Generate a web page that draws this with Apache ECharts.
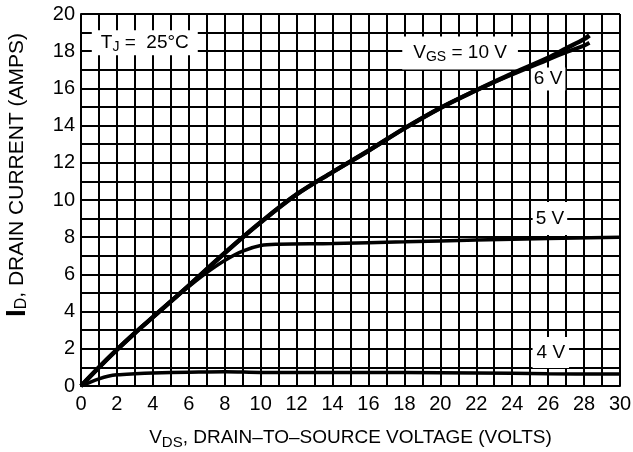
<!DOCTYPE html>
<html>
<head>
<meta charset="utf-8">
<script src="https://cdn.jsdelivr.net/npm/echarts@6/dist/echarts.min.js"></script>
<style>
  html, body { margin: 0; padding: 0; background: #fff; }
  #chart { width: 633px; height: 452px; }
</style>
</head>
<body>
<div id="chart"></div>
<script>
const FONT = "'Liberation Sans Narrow', 'Liberation Sans', Arial, sans-serif";

// curves, [VDS, ID]
const vgs10 = [[0,0],[1,1.0],[2,1.95],[3,2.85],[4,3.7],[6,5.4],[8,7.15],[10,8.8],[12,10.3],[14,11.5],[16,12.65],[18,13.85],[20,14.95],[22,15.9],[24,16.8],[26,17.65],[27,18.15],[28,18.65],[28.3,18.85]]
const vgs6 = [[0,0],[1,1.0],[2,1.95],[3,2.85],[4,3.7],[6,5.4],[8,7.15],[10,8.8],[12,10.3],[14,11.5],[16,12.65],[18,13.85],[20,14.95],[22,15.9],[24,16.75],[26,17.55],[27,17.95],[28,18.3],[28.3,18.45]]
const vgs5 = [[0,0],[1,1.0],[2,1.95],[3,2.85],[4,3.7],[5,4.55],[6,5.35],[7,6.1],[8,6.75],[9,7.25],[10,7.55],[11,7.62],[14,7.66],[18,7.75],[22,7.85],[26,7.93],[30,8.0]]
const vgs4 = [[0,0],[0.5,0.2],[1,0.38],[1.5,0.52],[2,0.6],[3,0.66],[4,0.7],[6,0.74],[8,0.77],[10,0.73],[14,0.72],[18,0.72],[22,0.7],[26,0.66],[30,0.64]]

const xTicks = { min: 0, max: 30, step: 2 }
const yTicks = { min: 0, max: 20, step: 2 }

// curve labels: [text, VDS, ID]
const curveLabels = [
  ['{t|V}{s|GS}{t| = 10 V}', 21.1, 17.9],
  ['{t|6 V}', 26.0, 16.5],
  ['{t|5 V}', 26.1, 9.0],
  ['{t|4 V}', 26.15, 1.8]
]
const tempLabel = ['{t|T}{s|J}{t| =  25°C}', 3.55, 18.45]

const rich = {
  t: { fontFamily: FONT, fontSize: 19, color: '#000' },
  s: { fontFamily: FONT, fontSize: 14, color: '#000', padding: [9, 0, 0, 0] }
}

function notes(list, pad) {
  return list.map(l => ({
    coord: [l[1], l[2]],
    label: {
      show: true, formatter: l[0], rich: rich,
      backgroundColor: '#fff', padding: pad, position: 'inside'
    }
  }))
}

const myChart = echarts.init(document.getElementById('chart'))

function curve(name, data, width, extra) {
  return Object.assign({
    name: name, type: 'line', data: data, smooth: 0.35, showSymbol: false,
    symbol: 'none', lineStyle: { color: '#000', width: width }, z: 5
  }, extra || {})
}

const option = {
  animation: false,
  backgroundColor: '#fff',
  grid: { left: 81, right: 13, top: 14, bottom: 66, outerBoundsMode: 'none', containLabel: false },
  xAxis: {
    type: 'value', min: xTicks.min, max: xTicks.max, interval: xTicks.step,
    axisLine: { show: true, lineStyle: { color: '#000', width: 2 } },
    axisTick: { show: false },
    minorTick: { show: false, splitNumber: 2 },
    splitLine: { show: true, lineStyle: { color: '#000', width: 2 } },
    minorSplitLine: { show: true, lineStyle: { color: '#000', width: 2 } },
    axisLabel: { fontFamily: FONT, fontSize: 20, color: '#000', margin: 8 },
    name: '{v|V}{s|DS}{t|, DRAIN–TO–SOURCE VOLTAGE (VOLTS)}',
    nameLocation: 'middle', nameGap: 40,
    nameTextStyle: {
      rich: {
        v: { fontFamily: FONT, fontSize: 19, color: '#000' },
        s: { fontFamily: FONT, fontSize: 15, color: '#000', padding: [9, 0, 0, 0] },
        t: { fontFamily: FONT, fontSize: 19, color: '#000' }
      }
    }
  },
  yAxis: {
    type: 'value', min: yTicks.min, max: yTicks.max, interval: yTicks.step,
    axisLine: { show: true, lineStyle: { color: '#000', width: 2 } },
    axisTick: { show: false },
    minorTick: { show: false, splitNumber: 2 },
    splitLine: { show: true, lineStyle: { color: '#000', width: 2 } },
    minorSplitLine: { show: true, lineStyle: { color: '#000', width: 2 } },
    axisLabel: { fontFamily: FONT, fontSize: 20, color: '#000', margin: 6 },
    name: '{i|I}{s|D}{t|, DRAIN CURRENT (AMPS)}',
    nameLocation: 'middle', nameGap: 50, nameRotate: 90,
    nameTextStyle: {
      padding: [0, 0, 0, 50],
      rich: {
        i: { fontFamily: FONT, fontSize: 28, fontWeight: 'bold', color: '#000' },
        s: { fontFamily: FONT, fontSize: 16, color: '#000', padding: [10, 0, 0, 0] },
        t: { fontFamily: FONT, fontSize: 21, color: '#000' }
      }
    }
  },
  series: [
    curve('10 V', vgs10, 4.5, {
      markPoint: {
        symbol: 'rect', symbolSize: 0,
        data: notes([curveLabels[0]], [5, 11, 5, 11]).concat(notes([tempLabel], [1, 9, 1, 9]))
      }
    }),
    curve('6 V', vgs6, 4, {
      markPoint: { symbol: 'rect', symbolSize: 0, data: notes([curveLabels[1]], [2, 3, 2, 3]) }
    }),
    curve('5 V', vgs5, 3.5, {
      markPoint: { symbol: 'rect', symbolSize: 0, data: notes([curveLabels[2]], [7, 3, 7, 3]) }
    }),
    curve('4 V', vgs4, 3.5, {
      markPoint: { symbol: 'rect', symbolSize: 0, data: notes([curveLabels[3]], [6, 4, 6, 4]) }
    })
  ]
}
myChart.setOption(option)
</script>
</body>
</html>
